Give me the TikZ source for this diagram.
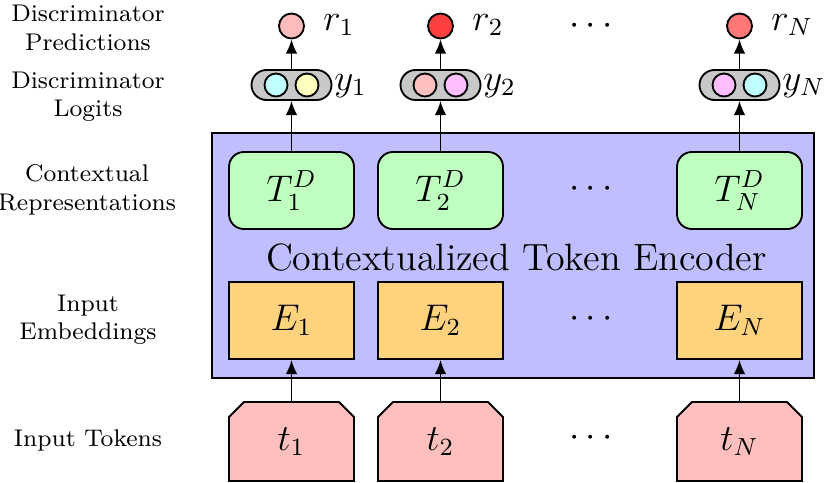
\documentclass[tikz,border=0pt]{standalone}
\usetikzlibrary{shapes.misc,arrows.meta,calc}
\def\pxu{0.3236pt}
\definecolor{encblue}{RGB}{191,191,255}
\definecolor{tgreen}{RGB}{191,255,191}
\definecolor{eorange}{RGB}{255,211,125}
\definecolor{tpink}{RGB}{255,191,191}
\definecolor{pillgray}{RGB}{200,200,200}
\definecolor{cc}{RGB}{191,255,255}
\definecolor{cy}{RGB}{255,255,191}
\definecolor{cp}{RGB}{255,191,191}
\definecolor{cm}{RGB}{255,191,255}
\definecolor{rA}{RGB}{255,187,187}
\definecolor{rB}{RGB}{255,64,64}
\definecolor{rC}{RGB}{255,120,120}
\begin{document}
\begin{tikzpicture}[x=0.3236pt,y=-0.3236pt,line width=0.6pt,
  tbox/.style={draw,fill=tgreen,rounded corners=4.8pt,minimum width={125*\pxu},minimum height={77*\pxu},inner sep=0pt,font=\large},
  ebox/.style={draw,fill=eorange,minimum width={125*\pxu},minimum height={77*\pxu},inner sep=0pt,font=\large},
  tokbox/.style={minimum width={125*\pxu},minimum height={79*\pxu},inner sep=0pt,font=\large},
  tokshape/.style={draw,fill=tpink,line join=miter},
  pill/.style={draw,fill=pillgray,rounded rectangle,minimum width={80*\pxu},minimum height={30*\pxu},inner sep=0pt},
  dot/.style={draw,circle,minimum size={23*\pxu},inner sep=0pt},
  rdot/.style={draw,circle,minimum size={25*\pxu},inner sep=0pt},
  sidelbl/.style={align=center,font=\fontsize{7.8}{9.2}\selectfont},
  mlbl/.style={font=\large,anchor=west,inner sep=0pt},
  arr/.style={-{Latex[length=4.6pt,width=3.8pt]}}]
\useasboundingbox (0,0) rectangle (830,482);
% encoder
\node[draw,fill=encblue,minimum width={602*\pxu},minimum height={245*\pxu},inner sep=0pt] (enc) at (513,255.5) {};
\node[font=\fontsize{12.3}{14}\selectfont] (enctxt) at (516.5,258) {Contextualized Token Encoder};
% side labels
\node[sidelbl] (l1) at (88,28) {Discriminator\\Predictions};
\node[sidelbl] (l2) at (88,97) {Discriminator\\Logits};
\node[sidelbl] (l3) at (87,190) {Contextual\\Representations};
\node[sidelbl] (l4) at (88,320) {Input\\Embeddings};
\node[sidelbl] (l5) at (88,440) {Input Tokens};
% columns
\foreach \cx/\i/\sub/\ca/\cb/\rc in {291.5/1/1/cc/cy/rA, 440.5/2/2/cp/cm/rB, 739.5/3/N/cm/cc/rC}{
  \node[tbox] (T\i) at (\cx,190.5) {$T_{\sub}^{D}$};
  \node[ebox] (E\i) at (\cx,320.5) {$E_{\sub}$};
  \draw[tokshape] ($(\cx,481)+(-62.5,0)$) -- ($(\cx,402)+(-62.5,15)$) -- ($(\cx,402)+(-47.5,0)$)
     -- ($(\cx,402)+(47.5,0)$) -- ($(\cx,402)+(62.5,15)$) -- ($(\cx,481)+(62.5,0)$) -- cycle;
  \node[tokbox] (t\i) at (\cx,441.5) {$t_{\sub}$};
  \node[pill] (y\i) at (\cx,85) {};
  \node[dot,fill=\ca] (ya\i) at ($(\cx,85)+(-15.5,0)$) {};
  \node[dot,fill=\cb] (yb\i) at ($(\cx,85)+(15.5,0)$) {};
  \node[rdot,fill=\rc] (r\i) at (\cx,26) {};
  \node[mlbl] (yl\i) at ($(\cx,85)+(42,1)$) {$y_{\sub}$};
  \node[mlbl] (rl\i) at ($(\cx,26)+(31,-1)$) {$r_{\sub}$};
  \draw[arr] (t\i.north) -- (E\i.south);
  \draw[arr] (T\i.north) -- (y\i.south);
  \draw[arr] (y\i.north) -- (r\i.south);
}
% dots
\node[font=\large] (d1) at (591,26) {$\cdots$};
\node[font=\large] (d2) at (591,189) {$\cdots$};
\node[font=\large] (d3) at (591,319) {$\cdots$};
\node[font=\large] (d4) at (591,438) {$\cdots$};
\end{tikzpicture}
\end{document}
